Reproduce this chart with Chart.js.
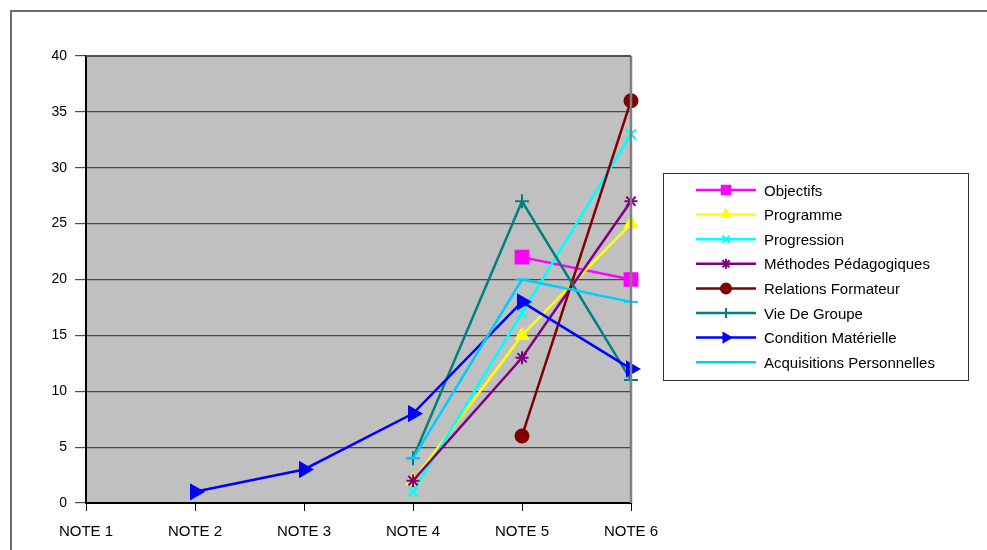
<!DOCTYPE html>
<html><head><meta charset="utf-8">
<script src="https://cdn.jsdelivr.net/npm/chart.js@4/dist/chart.umd.min.js"></script>
<style>html,body{margin:0;padding:0;background:#fff;}#wrap{width:987px;height:550px;position:relative;}</style>
</head><body><div id="wrap"><canvas id="c" width="987" height="550"></canvas></div>
<script>
const categories = ['NOTE 1','NOTE 2','NOTE 3','NOTE 4','NOTE 5','NOTE 6'];
const objectifs = [null,null,null,null,22,20];
const programme = [null,null,null,2,15,25];
const progression = [null,null,null,1,17,33];
const methodes = [null,null,null,2,13,27];
const relations = [null,null,null,null,6,36];
const vieGroupe = [null,null,null,4,27,11];
const condition = [null,1,3,8,18,12];
const acquisitions = [null,null,null,4,20,18];
const yTicks = [0,5,10,15,20,25,30,35,40];

const series = [
  {label:'Objectifs', data:objectifs, color:'#FF00FF', style:'rect', r:9, rot:0, lr:6},
  {label:'Programme', data:programme, color:'#FFFF00', style:'triangle', r:7, rot:0, lr:5},
  {label:'Progression', data:progression, color:'#00FFFF', style:'crossRot', r:7, rot:0, lr:5},
  {label:'Méthodes Pédagogiques', data:methodes, color:'#800080', style:'star', r:6.5, rot:0, lr:5},
  {label:'Relations Formateur', data:relations, color:'#800000', style:'circle', r:6.5, rot:0, lr:5},
  {label:'Vie De Groupe', data:vieGroupe, color:'#008080', style:'cross', r:7, rot:0, lr:5},
  {label:'Condition Matérielle', data:condition, color:'#0000FF', style:'triangle', r:8, rot:90, lr:5},
  {label:'Acquisitions Personnelles', data:acquisitions, color:'#00CCFF', style:'line', r:7, rot:0, lr:5}
];
const FONT = "'Liberation Sans', Arial, sans-serif";

const framePlugin = {
  id:'frame',
  beforeDraw(chart){
    const {ctx, chartArea:a} = chart;
    ctx.save();
    ctx.fillStyle = '#C0C0C0';
    ctx.fillRect(a.left, a.top, a.right-a.left, a.bottom-a.top);
    ctx.strokeStyle = '#6e6e6e'; ctx.lineWidth = 2;
    ctx.beginPath(); ctx.moveTo(11, 551); ctx.lineTo(11, 11); ctx.lineTo(988, 11); ctx.stroke();
    ctx.restore();
  },
  afterDatasetsDraw(chart){
    const {ctx, chartArea:a} = chart;
    ctx.save();
    ctx.strokeStyle = '#808080'; ctx.lineWidth = 2.5;
    ctx.beginPath(); ctx.moveTo(a.right, a.bottom); ctx.lineTo(a.right, a.top); ctx.stroke();
    ctx.strokeStyle = '#555'; ctx.lineWidth = 2;
    ctx.beginPath(); ctx.moveTo(a.left, a.top); ctx.lineTo(a.right, a.top); ctx.stroke();
    ctx.restore();
  },
  afterDraw(chart){
    const ctx = chart.ctx;
    ctx.save();
    const bx = 663, by = 173, bw = 305, bh = 207;
    ctx.strokeStyle = '#333'; ctx.lineWidth = 1;
    ctx.strokeRect(bx+0.5, by+0.5, bw, bh);
    ctx.font = '15px ' + FONT;
    ctx.textBaseline = 'middle';
    ctx.fillStyle = '#000';
    series.forEach((s,i)=>{
      const y = 190 + i*24.6;
      ctx.strokeStyle = s.color; ctx.lineWidth = 2.5;
      ctx.beginPath(); ctx.moveTo(696, y); ctx.lineTo(756, y); ctx.stroke();
      ctx.fillStyle = s.color; ctx.strokeStyle = s.color; ctx.lineWidth = 2;
      Chart.helpers.drawPoint(ctx, {pointStyle:s.style, radius:s.lr, rotation:s.rot, borderWidth:2}, 726, y);
      ctx.fillStyle = '#000';
      ctx.fillText(s.label, 764, y+1.5);
    });
    ctx.restore();
  }
};

new Chart(document.getElementById('c'), {
  type:'line',
  data:{
    labels:categories,
    datasets: series.map((s,i)=>({
      label:s.label, data:s.data, borderColor:s.color, backgroundColor:s.color,
      borderWidth:2.5, pointStyle:s.style, pointRadius:s.r, pointRotation:s.rot,
      pointBorderWidth:2, pointHoverRadius:s.r, tension:0, spanGaps:false, order:series.length-1-i, fill:false
    }))
  },
  options:{
    responsive:false, animation:false, devicePixelRatio:1,
    layout:{padding:{top:56, left:26, right:356, bottom:0}},
    plugins:{legend:{display:false}, tooltip:{enabled:false}},
    scales:{
      x:{
        type:'category', offset:false,
        grid:{drawOnChartArea:false, drawTicks:true, tickLength:8, color:'#000', lineWidth:1},
        border:{color:'#000', width:2},
        ticks:{color:'#000', font:{family:FONT, size:15}, padding:12, maxRotation:0, autoSkip:false},
        afterFit(s){ s.height = 47; }
      },
      y:{
        min:0, max:40,
        afterBuildTicks(s){ s.ticks = yTicks.map(v=>({value:v})); },
        grid:{color:'#4a4a4a', lineWidth:1.2, tickLength:11, drawTicks:true},
        border:{color:'#000', width:2},
        ticks:{color:'#000', font:{family:FONT, size:14}, padding:8},
        afterFit(s){ s.width = 60; }
      }
    }
  },
  plugins:[framePlugin]
});
</script></body></html>
